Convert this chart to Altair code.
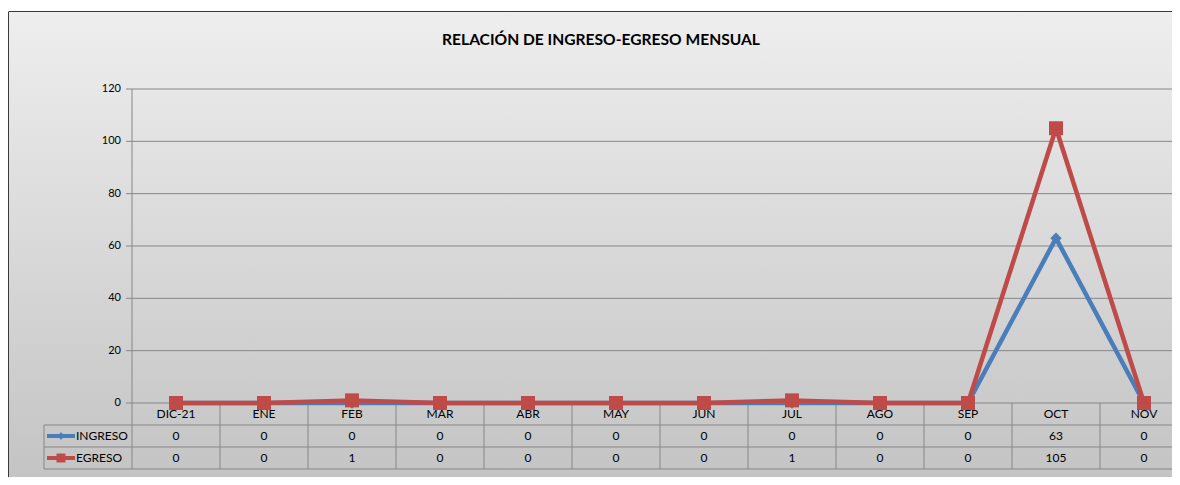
import altair as alt
import pandas as pd

months = ["DIC-21", "ENE", "FEB", "MAR", "ABR", "MAY", "JUN", "JUL", "AGO", "SEP", "OCT", "NOV"]
ingreso = [0, 0, 0, 0, 0, 0, 0, 0, 0, 0, 63, 0]
egreso = [0, 0, 1, 0, 0, 0, 0, 1, 0, 0, 105, 0]
y_ticks = [0, 20, 40, 60, 80, 100, 120]
series = ["INGRESO", "EGRESO"]
title_text = "RELACIÓN DE INGRESO-EGRESO MENSUAL"

W = 1040
H = 314
STEP = 88
ROW = 22
LEG = 88
PB = 74

FONT = "Lato"
BLUE = "#4A7EBB"
RED = "#BE4B48"
GRID = "#878787"

df = pd.DataFrame({"mes": months, "i": list(range(len(months))), "ingreso": ingreso, "egreso": egreso})
bounds = pd.DataFrame({"b": [i + 0.5 for i in range(len(months) - 1)]})
grid_df = pd.DataFrame({"v": y_ticks})
one = alt.Data(values=[{"a": 1}])

xs = alt.Scale(domain=[-0.5, len(months) - 0.5], range=[0, STEP * len(months)], nice=False, zero=False)
ys = alt.Scale(domain=[0, 120], nice=False)
X = alt.X("i:Q", scale=xs, axis=None)

grad = alt.Gradient(
    gradient="linear", x1=0, y1=0, x2=0, y2=1,
    stops=[alt.GradientStop(color="#eeeeee", offset=0), alt.GradientStop(color="#c4c4c4", offset=1)],
)
bg = alt.Chart(one).mark_rect(fill=grad).encode(
    x=alt.value(-123), x2=alt.value(W), y=alt.value(-77), y2=alt.value(H + PB)
)
frame_top = alt.Chart(one).mark_rule(color="#3a3a3a", strokeWidth=1).encode(
    x=alt.value(-123), x2=alt.value(W), y=alt.value(-77.5)
)
frame_left = alt.Chart(one).mark_rule(color="#3a3a3a", strokeWidth=1).encode(
    x=alt.value(-123.5), y=alt.value(-77.5), y2=alt.value(H + PB)
)

grid = alt.Chart(grid_df).mark_rule(color=GRID, strokeWidth=1).encode(
    y=alt.Y("v:Q", scale=ys, axis=None), x=alt.value(-6), x2=alt.value(W)
)
ylabels = alt.Chart(grid_df).mark_text(font=FONT, fontSize=11, color="#000000", align="right", baseline="middle").encode(
    y=alt.Y("v:Q", scale=ys, axis=None), x=alt.value(-11), text="v:Q"
)

yaxis_line = alt.Chart(one).mark_rule(color=GRID, strokeWidth=1).encode(
    x=alt.value(0), y=alt.value(0), y2=alt.value(H + 3 * ROW)
)
row_lines = [
    alt.Chart(one).mark_rule(color=GRID, strokeWidth=1).encode(
        x=alt.value(-LEG), x2=alt.value(W), y=alt.value(H + k * ROW)
    )
    for k in (1, 2, 3)
]
leg_border = alt.Chart(one).mark_rule(color=GRID, strokeWidth=1).encode(
    x=alt.value(-LEG), y=alt.value(H + ROW), y2=alt.value(H + 3 * ROW)
)
col_lines = alt.Chart(bounds).mark_rule(color=GRID, strokeWidth=1).encode(
    x=alt.X("b:Q", scale=xs, axis=None), y=alt.value(H), y2=alt.value(H + 3 * ROW)
)

txt = dict(font=FONT, fontSize=12, color="#000000", baseline="middle")
cat_text = alt.Chart(df).mark_text(**txt).encode(x=X, y=alt.value(H + ROW / 2), text="mes:N")
ing_text = alt.Chart(df).mark_text(**txt).encode(x=X, y=alt.value(H + ROW * 1.5), text="ingreso:Q")
egr_text = alt.Chart(df).mark_text(**txt).encode(x=X, y=alt.value(H + ROW * 2.5), text="egreso:Q")

legend_layers = []
for k, (name, col, shp, sz) in enumerate([(series[0], BLUE, "diamond", 60), (series[1], RED, "square", 80)]):
    yy = H + ROW * (1.5 + k)
    legend_layers.append(
        alt.Chart(one).mark_rule(color=col, strokeWidth=4).encode(
            x=alt.value(-85), x2=alt.value(-57), y=alt.value(yy)
        )
    )
    legend_layers.append(
        alt.Chart(one).mark_point(shape=shp, filled=True, size=sz, color=col, opacity=1).encode(
            x=alt.value(-71), y=alt.value(yy)
        )
    )
    legend_layers.append(
        alt.Chart(one).mark_text(font=FONT, fontSize=12, color="#000000", align="left", baseline="middle").encode(
            x=alt.value(-56), y=alt.value(yy), text=alt.value(name)
        )
    )

blue_line = alt.Chart(df).mark_line(color=BLUE, strokeWidth=4.5).encode(
    x=X, y=alt.Y("ingreso:Q", scale=ys, axis=None)
)
blue_pts = alt.Chart(df).mark_point(shape="diamond", filled=True, size=130, color=BLUE, opacity=1).encode(
    x=X, y=alt.Y("ingreso:Q", scale=ys, axis=None)
)
red_line = alt.Chart(df).mark_line(color=RED, strokeWidth=4.5).encode(
    x=X, y=alt.Y("egreso:Q", scale=ys, axis=None)
)
red_pts = alt.Chart(df).mark_point(shape="square", filled=True, size=196, color=RED, opacity=1).encode(
    x=X, y=alt.Y("egreso:Q", scale=ys, axis=None)
)

title = alt.Chart(one).mark_text(font=FONT, fontSize=15.6, fontWeight="bold", color="#000000", baseline="middle").encode(
    x=alt.value(469), y=alt.value(-49), text=alt.value(title_text)
)

chart = alt.layer(
    bg, frame_top, frame_left, grid, ylabels, yaxis_line, *row_lines, leg_border, col_lines,
    cat_text, ing_text, egr_text, *legend_layers,
    blue_line, blue_pts, red_line, red_pts, title,
).properties(
    width=W, height=H, autosize="none",
    padding={"left": 124, "top": 81, "right": 0, "bottom": PB},
    background="white",
).configure_view(stroke=None)

chart.save("out.html", embed_options={"renderer": "svg", "actions": False})
